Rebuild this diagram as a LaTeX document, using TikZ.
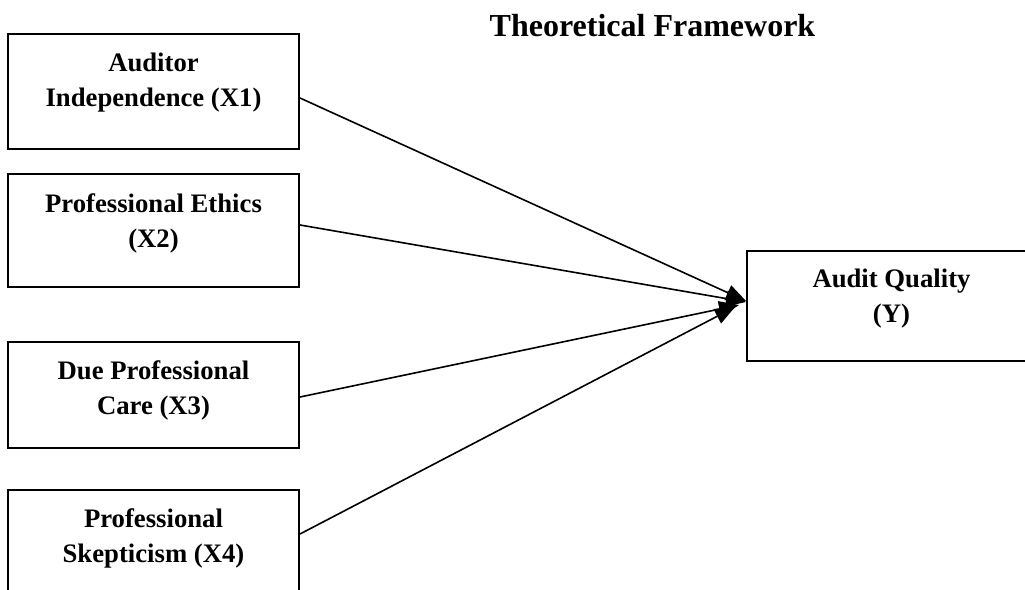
\documentclass[tikz,border=0pt]{standalone}
\usepackage{fontspec}
\setmainfont{Liberation Serif}
\usetikzlibrary{arrows.meta}
\begin{document}
\begin{tikzpicture}[x=1pt,y=-1pt,
  box/.style={draw,line width=2pt,inner sep=0pt},
  lbl/.style={font=\fontsize{26.7}{35}\selectfont\bfseries,align=center,inner sep=0pt,anchor=base},
  conn/.style={line width=1.6pt,-{Triangle[length=20pt,width=16pt]}}]
\useasboundingbox (0,0) rectangle (1025,589);
\clip (0,0) rectangle (1025,589);
\fill[white] (0,0) rectangle (1025,589);
\node[font=\fontsize{32}{38}\selectfont\bfseries,anchor=base,inner sep=0pt] (title) at (652.5,36) {Theoretical Framework};
\node[box,minimum width=291pt,minimum height=115pt] (x1) at (153.5,91.5) {};
\node[box,minimum width=291pt,minimum height=113pt] (x2) at (153.5,230.5) {};
\node[box,minimum width=291pt,minimum height=106pt] (x3) at (153.5,395) {};
\node[box,minimum width=291pt,minimum height=115pt] (x4) at (153.5,547.5) {};
\node[box,minimum width=289pt,minimum height=110pt] (y) at (891.5,306) {};
\node[lbl] (l1) at (153.5,106) {Auditor\\Independence (X1)};
\node[lbl] (l2) at (153.5,247) {Professional Ethics\\(X2)};
\node[lbl] (l3) at (153.5,414) {Due Professional\\Care (X3)};
\node[lbl] (l4) at (153.5,562) {Professional\\Skepticism (X4)};
\node[lbl] (ly) at (891.5,322) {Audit Quality\\(Y)};
\coordinate (t1) at (746,301);
\coordinate (t2) at (746,302);
\coordinate (t3) at (739,305);
\coordinate (t4) at (735,307);
\draw[conn] ([yshift=-6.5pt]x1.east) -- (t1);
\draw[conn] ([yshift=5.5pt]x2.east) -- (t2);
\draw[conn] ([yshift=-2pt]x3.east) -- (t3);
\draw[conn] ([yshift=13.5pt]x4.east) -- (t4);
\end{tikzpicture}
\end{document}
